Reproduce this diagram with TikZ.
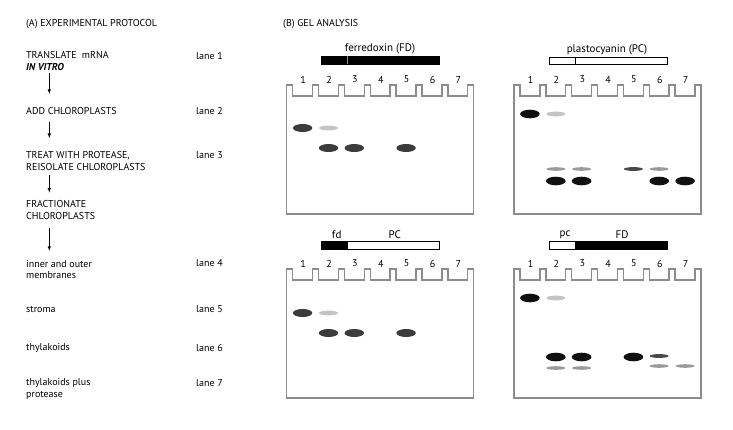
\documentclass[tikz,border=0pt]{standalone}
\usepackage{fontspec}
\setmainfont{PT Sans}
\definecolor{gelgray}{HTML}{8C8C8C}
\definecolor{banddark}{HTML}{3C3C3C}
\definecolor{bandblack}{HTML}{101010}
\definecolor{bandfaint}{HTML}{C4C4C4}
\definecolor{bandmid}{HTML}{9A9A9A}
\definecolor{bandthin}{HTML}{484848}
\begin{document}
\begin{tikzpicture}[x=1pt, y=-1pt,
	txt/.style={anchor=west, inner sep=0pt, align=left, font=\fontsize{10}{11.8}\selectfont},
	lanenum/.style={inner sep=0pt, font=\fontsize{10}{11}\selectfont},
	geltitle/.style={inner sep=0pt, font=\fontsize{11}{12}\selectfont},
	flow/.style={->, >=latex, line width=0.6pt},
	gelline/.style={draw=gelgray, line width=1.4pt, line join=miter},
	barbox/.style={draw=black, line width=0.7pt},
	dark/.style={fill=banddark, x radius=9.7pt, y radius=4pt},
	black/.style={fill=bandblack, x radius=9.8pt, y radius=4.3pt},
	faint/.style={fill=bandfaint, x radius=9.5pt, y radius=2.4pt},
	thin/.style={fill=bandmid, x radius=9.5pt, y radius=1.8pt},
	thindark/.style={fill=bandthin, x radius=9.5pt, y radius=1.9pt},
	gel/.pic={
		\draw [gelline] (0,129) -- (0,0) -- (6,0) -- (6,11) -- (25.9,11) -- (25.9,0) -- (31.9,0) -- (31.9,11)
			-- (51.7,11) -- (51.7,0) -- (57.7,0) -- (57.7,11) -- (77.6,11) -- (77.6,0) -- (83.6,0) -- (83.6,11)
			-- (103.4,11) -- (103.4,0) -- (109.4,0) -- (109.4,11) -- (129.3,11) -- (129.3,0) -- (135.3,0) -- (135.3,11)
			-- (155.1,11) -- (155.1,0) -- (161.1,0) -- (161.1,11) -- (181,11) -- (181,0) -- (187,0) -- (187,129) -- cycle;
		\foreach \n in {1,...,7}
			\node [lanenum] (-n\n) at ({16.5+25.86*(\n-1)},-5.5) {\n};
	}]
	\useasboundingbox (0,0) rectangle (733,429);

	% (A) protocol
	\node [txt] (protA) at (26,24.5) {(A) EXPERIMENTAL PROTOCOL};
	\node [txt] (translate) at (26,61.3) {TRANSLATE\ \ mRNA\\\textbf{\textit{IN VITRO}}};
	\node [txt] (addcp) at (26,110.7) {ADD CHLOROPLASTS};
	\node [txt] (protease) at (26,160.8) {TREAT WITH PROTEASE,\\REISOLATE CHLOROPLASTS};
	\node [txt] (fraction) at (26,210.3) {FRACTIONATE\\CHLOROPLASTS};
	\node [txt] (inner) at (26,269.6) {inner and outer\\membranes};
	\node [txt] (stroma) at (26,309) {stroma};
	\node [txt] (thyl) at (26,348.3) {thylakoids};
	\node [txt] (thylprot) at (26,389) {thylakoids plus\\protease};

	\node [txt] (lane1) at (196,55.7) {lane 1};
	\node [txt] (lane2) at (196,110.7) {lane 2};
	\node [txt] (lane3) at (196,155) {lane 3};
	\node [txt] (lane4) at (196,263.3) {lane 4};
	\node [txt] (lane5) at (196,309) {lane 5};
	\node [txt] (lane6) at (196,348.3) {lane 6};
	\node [txt] (lane7) at (196,382.7) {lane 7};

	\draw [flow] ([xshift=23.3pt,yshift=-2pt]translate.south west) -- ([xshift=23.3pt,yshift=13pt]addcp.north west);
	\draw [flow] ([xshift=23.3pt,yshift=-7pt]addcp.south west) -- ([xshift=23.3pt,yshift=13pt]protease.north west);
	\draw [flow] ([xshift=23.3pt,yshift=-4pt]protease.south west) -- ([xshift=23.3pt,yshift=8pt]fraction.north west);
	\draw [flow] ([xshift=23.3pt,yshift=-8pt]fraction.south west) -- ([xshift=23.3pt,yshift=9pt]inner.north west);

	% (B) gels
	\node [txt] (protB) at (283,24.5) {(B) GEL ANALYSIS};

	\begin{scope} [shift={(286.7,85)}]
		\pic (tl) {gel};
		\filldraw [barbox, fill=black] (34.3,-29) rectangle (152.3,-21);
		\draw [gelline, line width=0.6pt] (61,-29) -- (61,-21);
		\node [geltitle] (fdname) at (93.3,-36) {ferredoxin (FD)};
		\fill [dark] (15.9,43) ellipse [];
		\fill [faint] (41.8,43) ellipse [];
		\fill [dark] (41.8,63) ellipse [];
		\fill [dark] (67.6,63) ellipse [];
		\fill [dark] (119.4,63) ellipse [];
	\end{scope}

	\begin{scope} [shift={(514,85)}]
		\pic (tr) {gel};
		\draw [barbox, fill=white] (35,-28) rectangle (153,-21);
		\draw [barbox] (61,-28) -- (61,-21);
		\node [geltitle] (pcname) at (93,-35.5) {plastocyanin (PC)};
		\fill [black] (15.9,29) ellipse [];
		\fill [faint] (41.8,29) ellipse [];
		\fill [thin] (41.8,84) ellipse [];
		\fill [thin] (67.6,84) ellipse [];
		\fill [thindark] (119.4,84) ellipse [];
		\fill [thin] (145.2,84) ellipse [];
		\fill [black] (41.8,96) ellipse [];
		\fill [black] (67.6,96) ellipse [];
		\fill [black] (145.2,96) ellipse [];
		\fill [black] (171.1,96) ellipse [];
	\end{scope}

	\begin{scope} [shift={(286.7,269)}]
		\pic (bl) {gel};
		\draw [barbox, fill=white] (34.3,-27.5) rectangle (152.3,-20);
		\filldraw [barbox, fill=black] (34.3,-27.5) rectangle (61,-20);
		\node [geltitle] (fdpart) at (50,-34) {fd};
		\node [geltitle] (pcpart) at (108,-34) {PC};
		\fill [dark] (15.9,44) ellipse [];
		\fill [faint] (41.8,44) ellipse [];
		\fill [dark] (41.8,64) ellipse [];
		\fill [dark] (67.6,64) ellipse [];
		\fill [dark] (119.4,64) ellipse [];
	\end{scope}

	\begin{scope} [shift={(514,269)}]
		\pic (br) {gel};
		\draw [barbox, fill=white] (35,-27.5) rectangle (153,-20);
		\filldraw [barbox, fill=black] (61,-27.5) rectangle (153,-20);
		\node [geltitle] (pcpart2) at (51,-34) {pc};
		\node [geltitle] (fdpart2) at (108,-34) {FD};
		\fill [black] (15.9,29) ellipse [];
		\fill [faint] (41.8,29) ellipse [];
		\fill [black] (41.8,88) ellipse [];
		\fill [black] (67.6,88) ellipse [];
		\fill [black] (119.4,88) ellipse [];
		\fill [thin] (41.8,99) ellipse [];
		\fill [thin] (67.6,99) ellipse [];
		\fill [thindark] (145.2,87) ellipse [];
		\fill [thin] (145.2,97) ellipse [];
		\fill [thin] (171.1,97) ellipse [];
	\end{scope}

\end{tikzpicture}
\end{document}
